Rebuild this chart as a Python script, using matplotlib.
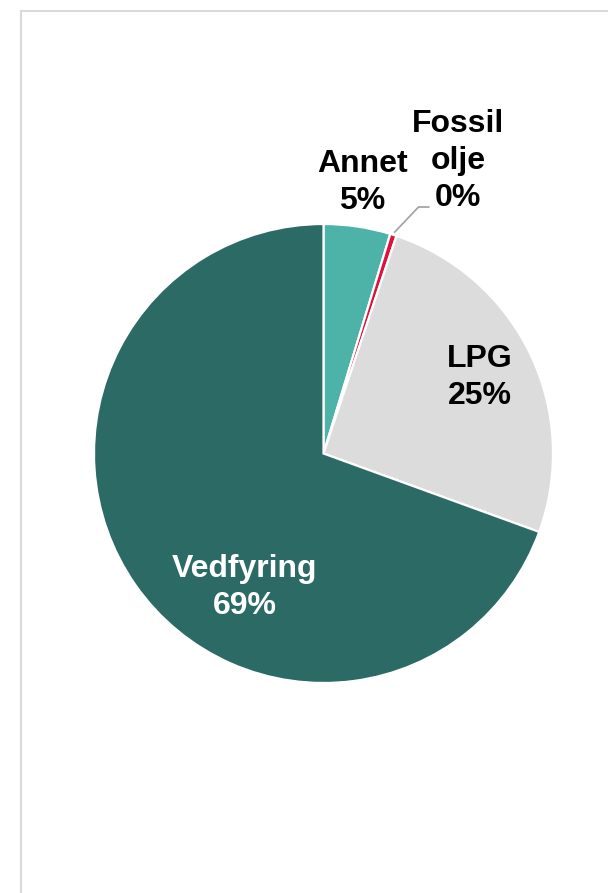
import matplotlib
matplotlib.use("Agg")
import matplotlib.pyplot as plt
from matplotlib.patches import Rectangle
import numpy as np

plt.rcParams['font.family'] = ['Liberation Sans', 'DejaVu Sans']

categories = ["Annet", "Fossil\nolje", "LPG", "Vedfyring"]
values = [4.7, 0.45, 25.4, 69.45]
pct_labels = ["5%", "0%", "25%", "69%"]
colors = ["#4DB3A9", "#E0103A", "#DCDCDC", "#2C6A65"]
text_colors = ["black", "black", "black", "white"]

W, H, DPI = 608, 893, 100
fig = plt.figure(figsize=(W / DPI, H / DPI), dpi=DPI)
ax = fig.add_axes([0, 0, 1, 1])

cx, cy, R = 323.5, 453.5, 229.5
ax.set_aspect('equal')
ax.axis('off')

wedges, _ = ax.pie(values, colors=colors, startangle=90, counterclock=False,
                   radius=1.0, center=(0, 0),
                   wedgeprops=dict(edgecolor='white', linewidth=1.6))
ax.set_xlim(-cx / R, (W - cx) / R)
ax.set_ylim(-(H - cy) / R, cy / R)

label_pos = [(0.168, 1.179), (0.586, 1.274), (0.680, 0.333), (-0.342, -0.582)]
for cat, pct, tc, (lx, ly) in zip(categories, pct_labels, text_colors, label_pos):
    ax.text(lx, ly, f"{cat}\n{pct}", ha='center', va='center', fontsize=23,
            fontweight='bold', color=tc, linespacing=1.3)

# leader line for small slice
w = wedges[1]
mid = np.deg2rad((w.theta1 + w.theta2) / 2)
x0, y0 = 1.01 * np.cos(mid), 1.01 * np.sin(mid)
ax.plot([x0, 0.414, 0.462], [y0, 1.074, 1.074], color='#A6A6A6', lw=1.3,
        solid_capstyle='butt')

# chart area frame (cut at right and bottom)
fig.add_artist(Rectangle((20.5 / W, -0.05), 1.2, 1.05 - 10.5 / H,
                         transform=fig.transFigure, fill=False,
                         edgecolor='#D9D9D9', linewidth=1.5))

fig.savefig("out.png", dpi=DPI, facecolor='white')
